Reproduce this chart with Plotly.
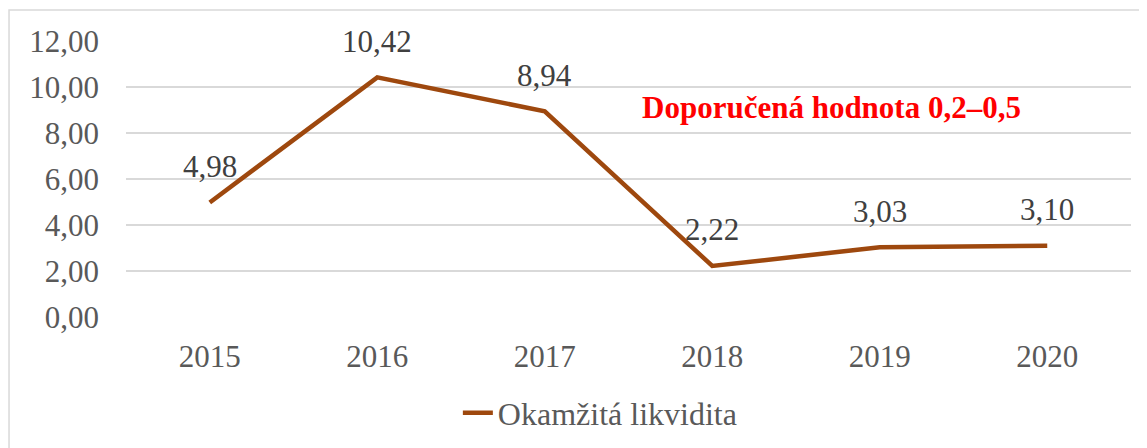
import plotly.graph_objects as go

years = ["2015", "2016", "2017", "2018", "2019", "2020"]
values = [4.98, 10.42, 8.94, 2.22, 3.03, 3.10]
series_name = "Okamžitá likvidita"
note_text = "Doporučená hodnota 0,2–0,5"
y_ticks = [0, 2, 4, 6, 8, 10, 12]

FONT = "Liberation Serif"
LINE_COLOR = "#9E480E"
GRID = "#D9D9D9"

fig = go.Figure()
fig.add_trace(go.Scatter(
    x=years, y=values, mode="lines", name=series_name,
    line=dict(color=LINE_COLOR, width=4.5),
    showlegend=True,
))

for i, v in enumerate(values):
    fig.add_annotation(
        x=i, y=v, text=f"{v:.2f}".replace(".", ","),
        showarrow=False, yanchor="middle", yshift=36,
        font=dict(family=FONT, size=31, color="#404040"),
    )

fig.add_annotation(
    x=3.71, y=9.09, xref="x", yref="y", text=f"<b>{note_text}</b>",
    showarrow=False, font=dict(family=FONT, size=31, color="#FF0000"),
)

fig.add_shape(
    type="rect", xref="paper", yref="paper",
    x0=-0.1164, x1=1.3, y0=-0.7, y1=1.1123,
    line=dict(color=GRID, width=1.5), fillcolor="rgba(0,0,0,0)", layer="below",
)

fig.update_layout(
    width=1139, height=440,
    margin=dict(l=118, r=16, t=33, b=131, autoexpand=False),
    paper_bgcolor="white", plot_bgcolor="white",
    separators=",.",
    font=dict(family=FONT, size=31, color="#595959"),
    legend=dict(
        orientation="h", x=0.472, xanchor="center", y=-0.348, yanchor="middle",
        font=dict(family=FONT, size=32, color="#595959"),
        bgcolor="rgba(0,0,0,0)",
    ),
    xaxis=dict(
        type="category", range=[-0.5, 5.5], showgrid=False, showline=False,
        zeroline=False, ticks="", ticklabelstandoff=18, automargin=False,
        tickfont=dict(family=FONT, size=31, color="#595959"),
    ),
    yaxis=dict(
        range=[0, 12], tickvals=y_ticks, tickformat=".2f",
        showgrid=True, gridcolor=GRID, gridwidth=1.5, zeroline=False,
        showline=False, ticks="", ticklabelstandoff=26, automargin=False,
        tickfont=dict(family=FONT, size=31, color="#595959"),
    ),
)

fig.write_html("out.html")
